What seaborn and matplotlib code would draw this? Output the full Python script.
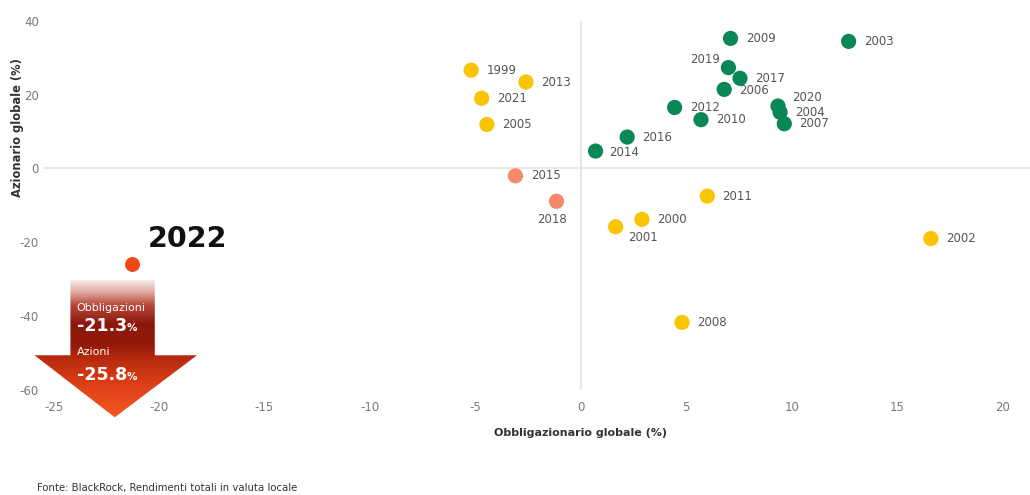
import numpy as np
import pandas as pd
import seaborn as sns
import matplotlib
matplotlib.use('Agg')
import matplotlib.pyplot as plt
from matplotlib.patches import Polygon
from matplotlib.colors import LinearSegmentedColormap

plt.rcParams['axes.unicode_minus'] = False

years = ['1999', '2013', '2021', '2005', '2015', '2018', '2014', '2016', '2012', '2010',
         '2009', '2019', '2017', '2006', '2020', '2004', '2007', '2003', '2011', '2000',
         '2001', '2002', '2008', '2022']
bonds = [-5.2, -2.6, -4.7, -4.45, -3.1, -1.15, 0.7, 2.2, 4.45, 5.7,
         7.1, 7.0, 7.55, 6.8, 9.35, 9.45, 9.65, 12.7, 6.0, 2.9,
         1.65, 16.6, 4.8, -21.3]
stocks = [26.6, 23.4, 19.0, 11.9, -2.0, -8.9, 4.7, 8.5, 16.5, 13.2,
          35.2, 27.3, 24.4, 21.4, 16.9, 15.2, 12.1, 34.4, -7.5, -13.8,
          -15.8, -19.0, -41.7, -25.8]
group = ['mixed', 'mixed', 'mixed', 'mixed', 'both_neg', 'both_neg', 'both_pos', 'both_pos',
         'both_pos', 'both_pos', 'both_pos', 'both_pos', 'both_pos', 'both_pos', 'both_pos',
         'both_pos', 'both_pos', 'both_pos', 'mixed', 'mixed', 'mixed', 'mixed', 'mixed', 'y2022']

palette = {'both_pos': '#0a8756', 'mixed': '#f8c500', 'both_neg': '#f4896b', 'y2022': '#f0461a'}

# label offsets (points) for the crowded ones
offsets = {'2019': (-6, 6, 'right'), '2020': (10, 6, 'left'), '2018': (-3, -13, 'center'),
           '2001': (9, -8, 'left'), '2014': (10, -1, 'left'), '2006': (11, -1, 'left')}

df = pd.DataFrame({'year': years, 'bonds': bonds, 'stocks': stocks, 'group': group})

fig = plt.figure(figsize=(10.3, 4.95), dpi=100)
ax = fig.add_axes([43 / 1030, 1 - 390 / 495, 987 / 1030, 369.3 / 495])

ax.axhline(0, color='#e8e8e8', lw=1.6, zorder=0)
ax.axvline(0, color='#e8e8e8', lw=1.6, zorder=0)

sns.scatterplot(data=df[df.year != '2022'], x='bonds', y='stocks', hue='group', palette=palette,
                s=120, linewidth=0, legend=False, ax=ax, zorder=3)
sns.scatterplot(data=df[df.year == '2022'], x='bonds', y='stocks', hue='group', palette=palette,
                s=115, linewidth=0, legend=False, ax=ax, zorder=3)

for _, r in df.iterrows():
    if r.year == '2022':
        continue
    dx, dy, ha = offsets.get(r.year, (11, 0, 'left'))
    ax.annotate(r.year, (r.bonds, r.stocks), xytext=(dx, dy), textcoords='offset points',
                ha=ha, va='center', fontsize=8.5, color='#555555', zorder=4)

# 2022 callout
ax.annotate('2022', (-21.3, -25.8), xytext=(12, 8), textcoords='offset points',
            ha='left', va='bottom', fontsize=20.5, fontweight='bold', color='#111111')

# big gradient arrow
verts = [(-24.2, -30.3), (-20.2, -30.3), (-20.2, -50.6), (-18.2, -50.6),
         (-22.1, -67.4), (-25.9, -50.6), (-24.2, -50.6)]
arrow = Polygon(verts, closed=True, facecolor='none', edgecolor='none', transform=ax.transData)
ax.add_patch(arrow)
arrow.set_clip_on(False)
cmap = LinearSegmentedColormap.from_list('arr', [
    (0.0, '#f6e8e4'), (0.08, '#e2b1a8'), (0.18, '#b8473a'), (0.32, '#8a170b'),
    (0.48, '#951a08'), (0.56, '#b42a0e'), (0.75, '#dc3e16'), (1.0, '#f45a22')])
grad = np.linspace(0, 1, 256).reshape(-1, 1)
im = ax.imshow(grad, extent=(-26.2, -18.0, -67.5, -30.3), aspect='auto', cmap=cmap,
               origin='upper', zorder=2, interpolation='bilinear')
im.set_clip_box(fig.bbox)
im.set_clip_path(arrow)

ax.text(-23.9, -37.9, 'Obbligazioni', fontsize=8, color='white', ha='left', va='center', zorder=5)
t1 = ax.text(-23.9, -42.8, '-21.3', fontsize=12.5, fontweight='bold', color='white',
             ha='left', va='center', zorder=5)
ax.annotate('%', xy=(1, 0.12), xycoords=t1, fontsize=7.5, fontweight='bold', color='white',
            ha='left', va='bottom', zorder=5)
ax.text(-23.9, -49.6, 'Azioni', fontsize=8, color='white', ha='left', va='center', zorder=5)
t2 = ax.text(-23.9, -56.0, '-25.8', fontsize=12.5, fontweight='bold', color='white',
             ha='left', va='center', zorder=5)
ax.annotate('%', xy=(1, 0.12), xycoords=t2, fontsize=7.5, fontweight='bold', color='white',
            ha='left', va='bottom', zorder=5)

ax.set_xlim(-25.5, 21.3)
ax.set_ylim(-60, 40)
ax.set_xticks([-25, -20, -15, -10, -5, 0, 5, 10, 15, 20])
ax.set_yticks([-60, -40, -20, 0, 20, 40])
sns.despine(ax=ax, left=True, bottom=True)
ax.tick_params(length=0, labelsize=8.5, labelcolor='#7a7a7a')
ax.tick_params(axis='x', pad=8)
ax.tick_params(axis='y', pad=3)

ax.set_xlabel('Obbligazionario globale (%)', fontsize=8, fontweight='bold', color='#333333')
ax.xaxis.set_label_coords(25.5 / 46.8, -0.103)
ax.set_ylabel('Azionario globale (%)', fontsize=8.3, fontweight='bold', color='#333333')
ax.yaxis.set_label_coords(-0.019, 0.71)

fig.text(37 / 1030, 1 - 488 / 495, 'Fonte: BlackRock, Rendimenti totali in valuta locale',
         fontsize=7.3, color='#333333', ha='left', va='center',
         family=['Liberation Sans Narrow', 'DejaVu Sans'])

fig.savefig('out.png', dpi=100)
